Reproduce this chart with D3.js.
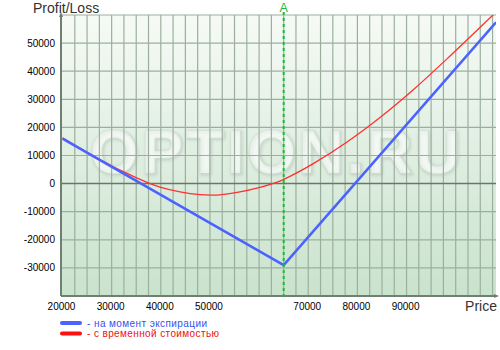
<!DOCTYPE html>
<html>
<head>
<meta charset="utf-8">
<script src="https://cdn.jsdelivr.net/npm/d3@7"></script>
<style>
  body { margin: 0; background: #fff; }
  text { font-family: "Liberation Sans", Arial, sans-serif; }
</style>
</head>
<body>
<div id="vis"></div>
<script>
const WIDTH = 500;
const HEIGHT = 350;
const PLOT = {left: 61, right: 496, top: 15, bottom: 296};

// expiration payoff (price, profit)
const expPrice = [20000, 65000, 108200];
const expValue = [16000, -29000, 57400];

// with time value
const tvPrice = [20000, 25250, 32040, 37800, 39840, 43900, 47970, 50500, 52040, 56110, 60170, 63230, 64920,
                 71030, 77820, 84600, 91370, 98170, 107530, 108200];
const tvValue = [16300, 10900, 4500, 0, -1220, -2930, -3950, -4100, -3990, -2970, -1350, 240, 1420,
                 7100, 14700, 23510, 33400, 44300, 59900, 61000];

const xTicks = [20000, 30000, 40000, 50000, 60000, 70000, 80000, 90000];
const yTicks = [-30000, -20000, -10000, 0, 10000, 20000, 30000, 40000, 50000];
const strike = 65000;

const legendLabels = ["- на момент экспирации", "- с временной стоимостью"];
const legendWidths = [120, 132];

const svg = d3.select("#vis").append("svg")
    .attr("width", WIDTH)
    .attr("height", HEIGHT);

const X_SCALE = d3.scaleLinear().domain([20000, 108200]).range([62.5, 496]);
const Y_SCALE = d3.scaleLinear().domain([-40000, 60000]).range([296, 15]);

// background gradient
const defs = svg.append("defs");
const grad = defs.append("linearGradient")
    .attr("id", "bg").attr("x1", 0).attr("y1", 0).attr("x2", 0).attr("y2", 1);
grad.append("stop").attr("offset", "0%").attr("stop-color", "#f6faf6");
grad.append("stop").attr("offset", "100%").attr("stop-color", "#c9e3cd");

defs.append("clipPath").attr("id", "clip")
  .append("rect")
    .attr("x", PLOT.left).attr("y", PLOT.top)
    .attr("width", PLOT.right - PLOT.left).attr("height", PLOT.bottom - PLOT.top);

defs.append("filter").attr("id", "blur")
  .append("feGaussianBlur").attr("stdDeviation", 1.5);

svg.append("rect")
    .attr("x", PLOT.left).attr("y", PLOT.top)
    .attr("width", PLOT.right - PLOT.left).attr("height", PLOT.bottom - PLOT.top)
    .attr("fill", "url(#bg)");

// watermark
const wm = svg.append("g").attr("font-weight", "bold").attr("font-size", 62);
wm.append("text").attr("x", 276).attr("y", 174).attr("text-anchor", "middle")
    .attr("textLength", 370).attr("fill", "none").attr("stroke", "#7d8c7e")
    .attr("stroke-width", 3).attr("opacity", 0.28).attr("filter", "url(#blur)")
    .text("OPTION.RU");
wm.append("text").attr("x", 275).attr("y", 173).attr("text-anchor", "middle")
    .attr("textLength", 370).attr("fill", "#ffffff").attr("opacity", 0.6)
    .text("OPTION.RU");

// grid
const vGrid = d3.range(22500, 108200, 2500);
svg.append("g").selectAll("line").data(vGrid).enter().append("line")
    .attr("x1", d => X_SCALE(d)).attr("x2", d => X_SCALE(d))
    .attr("y1", PLOT.top).attr("y2", PLOT.bottom)
    .attr("stroke", "#9caf9e").attr("stroke-width", 1.2);

svg.append("g").selectAll("line").data(yTicks.concat([60000])).enter().append("line")
    .attr("x1", PLOT.left).attr("x2", PLOT.right)
    .attr("y1", d => Y_SCALE(d)).attr("y2", d => Y_SCALE(d))
    .attr("stroke", d => d === 0 ? "#687868" : "#9caf9e")
    .attr("stroke-width", d => d === 0 ? 1.5 : 1.2);

// axes lines with arrows
svg.append("line").attr("x1", PLOT.left).attr("x2", PLOT.left)
    .attr("y1", PLOT.top - 1).attr("y2", PLOT.bottom)
    .attr("stroke", "#6f7f71").attr("stroke-width", 2);
svg.append("line").attr("x1", PLOT.left).attr("x2", PLOT.right + 1)
    .attr("y1", PLOT.bottom).attr("y2", PLOT.bottom)
    .attr("stroke", "#6f7f71").attr("stroke-width", 2);
svg.append("path").attr("d", `M${PLOT.left - 2},${PLOT.top + 2}L${PLOT.left},${PLOT.top - 3}L${PLOT.left + 2},${PLOT.top + 2}Z`)
    .attr("fill", "#6f7f71");
svg.append("path").attr("d", `M${PLOT.right - 2},${PLOT.bottom - 2}L${PLOT.right + 3},${PLOT.bottom}L${PLOT.right - 2},${PLOT.bottom + 2}Z`)
    .attr("fill", "#6f7f71");

// tick labels
svg.append("g").selectAll("text").data(yTicks).enter().append("text")
    .attr("x", 55).attr("y", d => Y_SCALE(d) + 3.5)
    .attr("text-anchor", "end").attr("font-size", 10).attr("fill", "#000")
    .text(d => d);
svg.append("g").selectAll("text").data(xTicks.filter(d => d !== 60000)).enter().append("text")
    .attr("x", d => X_SCALE(d) - 1).attr("y", 310)
    .attr("text-anchor", "middle").attr("font-size", 10).attr("fill", "#000")
    .text(d => d);

// axis titles
svg.append("text").attr("x", 33).attr("y", 13).attr("font-size", 14).attr("fill", "#333")
    .text("Profit/Loss");
svg.append("text").attr("x", 497).attr("y", 311).attr("text-anchor", "end")
    .attr("font-size", 14).attr("fill", "#333").text("Price");

// curves
const plotArea = svg.append("g").attr("clip-path", "url(#clip)");

const redLine = d3.line()
    .x((d, i) => X_SCALE(tvPrice[i]))
    .y(d => Y_SCALE(d))
    .curve(d3.curveCatmullRom);
plotArea.append("path").datum(tvValue)
    .attr("d", redLine)
    .attr("fill", "none").attr("stroke", "#ff3030").attr("stroke-width", 1.3);

const blueLine = d3.line()
    .x((d, i) => X_SCALE(expPrice[i]))
    .y(d => Y_SCALE(d));
plotArea.append("path").datum(expValue)
    .attr("d", blueLine)
    .attr("fill", "none").attr("stroke", "#4a62ff").attr("stroke-width", 2.5);

// strike marker A
svg.append("line")
    .attr("x1", X_SCALE(strike)).attr("x2", X_SCALE(strike))
    .attr("y1", 12).attr("y2", PLOT.bottom)
    .attr("stroke", "#1dbb3c").attr("stroke-width", 2).attr("stroke-dasharray", "3,3");
svg.append("text").attr("x", X_SCALE(strike)).attr("y", 11.5)
    .attr("text-anchor", "middle").attr("font-size", 12.5).attr("fill", "#1dbb3c")
    .text("A");

// legend
const legendColors = ["#4a62ff", "#ff1010"];
const legendText = ["#3850f0", "#ee1010"];
const legend = svg.append("g").selectAll("g").data(legendLabels).enter().append("g")
    .attr("transform", (d, i) => `translate(0, ${323 + i * 10.5})`);
legend.append("line").attr("x1", 62).attr("x2", 80).attr("y1", 0).attr("y2", 0)
    .attr("stroke", (d, i) => legendColors[i]).attr("stroke-width", 4).attr("stroke-linecap", "round");
legend.append("text").attr("x", 87).attr("y", 3.5).attr("font-size", 10)
    .attr("textLength", (d, i) => legendWidths[i])
    .attr("fill", (d, i) => legendText[i])
    .text(d => d);
</script>
</body>
</html>
